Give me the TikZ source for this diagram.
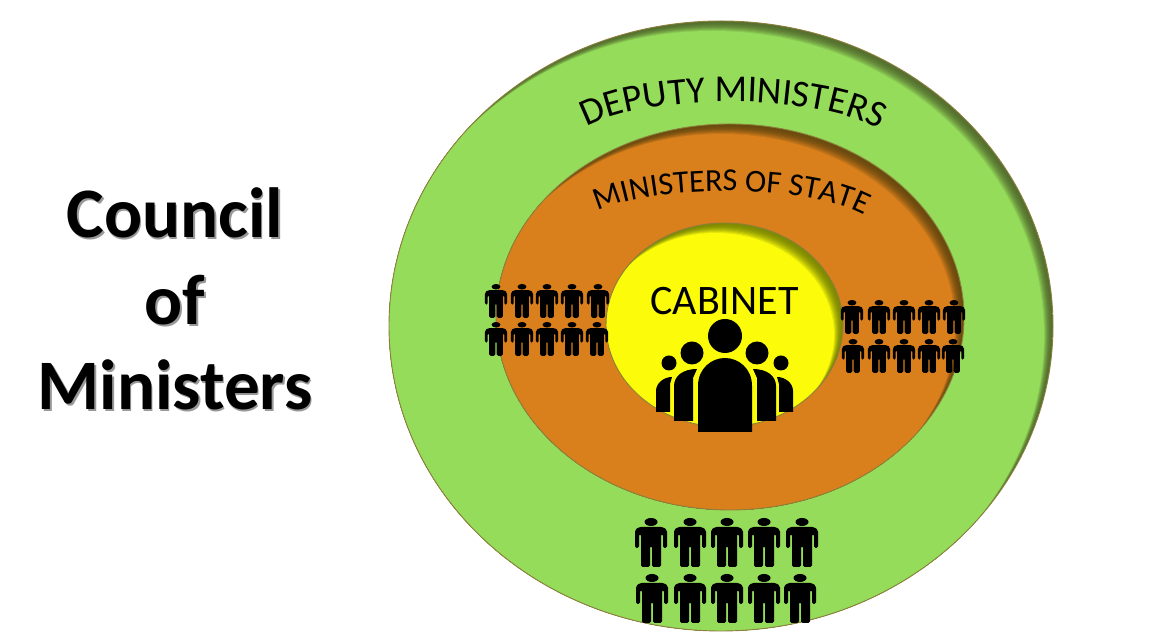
\documentclass[tikz,border=0pt]{standalone}
\usepackage{fontspec}
\setmainfont{Carlito}
\usetikzlibrary{decorations.text}
\definecolor{grn}{HTML}{95DC5A}
\definecolor{grnD}{HTML}{55702F}
\definecolor{org}{HTML}{D97F1C}
\definecolor{orgD}{HTML}{6B4A0E}
\definecolor{yel}{HTML}{FCFC0A}
\definecolor{yelD}{HTML}{7F8A00}
\definecolor{rim}{HTML}{8C7F3C}
\tikzset{
  titletext/.style={font=\fontsize{71}{71}\selectfont\bfseries,anchor=base,text=black,inner sep=0pt},
  titleshadow/.style={font=\fontsize{71}{71}\selectfont\bfseries,anchor=base,text=black!40,inner sep=0pt},
  cabtext/.style={font=\fontsize{42}{42}\selectfont,anchor=base,inner sep=0pt},
  figure/.style={fill=black,draw=none},
  rimline/.style={draw=rim,line width=0.9pt}
}
% disc: cx cy rx ry base dark shiftx shifty
\newcommand\shadeddisc[8]{%
  \begin{scope}
    \clip (#1,#2) ellipse [x radius=#3,y radius=#4];
    \fill[#6] (#1,#2) ellipse [x radius=#3,y radius=#4];
    \foreach \k in {1,...,10}{
      \pgfmathsetmacro\p{\k*\k}
      \fill[#5!\p!#6] ({#1-\k*#7},{#2-\k*#8}) ellipse [x radius=#3,y radius=#4];
    }
  \end{scope}
  \draw[rimline] (#1,#2) ellipse [x radius=#3,y radius=#4];
}
% man: x, top y (in y-up coordinates), scale
\newcommand\man[3]{%
  \begin{scope}[shift={(#1,#2)},scale=#3]
    \fill[figure] (0,-4) ellipse [x radius=6.5,y radius=4];
    \fill[figure,rounded corners=1.6pt] (-16,-30) -- (-16,-12) -- (-12,-9) -- (12,-9) -- (16,-12) -- (16,-30)
      -- (12,-30) -- (12,-16) -- (10,-16) -- (10,-49) -- (1,-49) -- (1,-28) -- (-1,-28) -- (-1,-49)
      -- (-10,-49) -- (-10,-16) -- (-12,-16) -- (-12,-30) -- cycle;
  \end{scope}%
}
\begin{document}
\begin{tikzpicture}[x=1pt,y=1pt]
\useasboundingbox (0,0) rectangle (1149,636);
\fill[white] (0,0) rectangle (1149,636);

% title
\node[titleshadow] (s1) at (176.5,396.5) {Council};
\node[titleshadow] (s2) at (176.5,309.5) {of};
\node[titleshadow] (s3) at (176.5,224.5) {Ministers};
\node[titletext] (t1) at (175,398) {Council};
\node[titletext] (t2) at (175,311) {of};
\node[titletext] (t3) at (175,226) {Ministers};

% rings
\shadeddisc{721}{310}{332}{305}{grn}{grnD}{0.9}{1.0}
\shadeddisc{730}{319}{234}{193}{org}{orgD}{0.9}{1.0}
\shadeddisc{724.5}{311}{118.5}{102}{yel}{yelD}{0.9}{1.0}

% curved labels
\path[decorate,decoration={text along path,text align=center,
  text={|\fontsize{38}{38}\selectfont|DEPUTY MINISTERS}}]
  (578,503) .. controls (632,545) and (830,545) .. (888,501);
\path[decorate,decoration={text along path,text align=center,
  text={|\fontsize{32}{32}\selectfont|MINISTERS OF STATE}}]
  (590,420) .. controls (640,454) and (820,454) .. (872,416);

\node[cabtext] (cab) at (724.5,321) {CABINET};

% cabinet group
\fill[figure] (725,300) circle (17);
\fill[figure] (692,283) circle (11.5);
\fill[figure] (757,283) circle (11.5);
\fill[figure] (669,273) circle (7.5);
\fill[figure] (781,273) circle (7.5);
\fill[figure] (698,204) -- (698,250) .. controls (698,268) and (712,278) .. (725,278)
  .. controls (738,278) and (752,268) .. (752,250) -- (752,204) -- cycle;
\fill[figure] (674,215) -- (674,250) .. controls (674,260) and (683,267) .. (697,267) -- (693,258) -- (693,215) -- cycle;
\fill[figure] (776,215) -- (776,250) .. controls (776,260) and (767,267) .. (753,267) -- (757,258) -- (757,215) -- cycle;
\fill[figure] (656,224) -- (656,245) .. controls (656,253) and (664,259) .. (672,259) -- (670,252) -- (670,224) -- cycle;
\fill[figure] (793,224) -- (793,245) .. controls (793,253) and (785,259) .. (777,259) -- (779,252) -- (779,224) -- cycle;

% bottom group
\foreach \x in {651,690,727,764,802}{\man{\x}{118}{1}}
\foreach \x in {652,690,727,764,800}{\man{\x}{62}{1}}
% left group
\foreach \x in {496,522,547,572,598}{\man{\x}{352}{0.69}}
\foreach \x in {496,522,547,572,597}{\man{\x}{314}{0.69}}
% right group
\foreach \x in {852,879,904,929,954}{\man{\x}{336}{0.69}}
\foreach \x in {853,879,904,929,953}{\man{\x}{297}{0.69}}
\end{tikzpicture}
\end{document}
